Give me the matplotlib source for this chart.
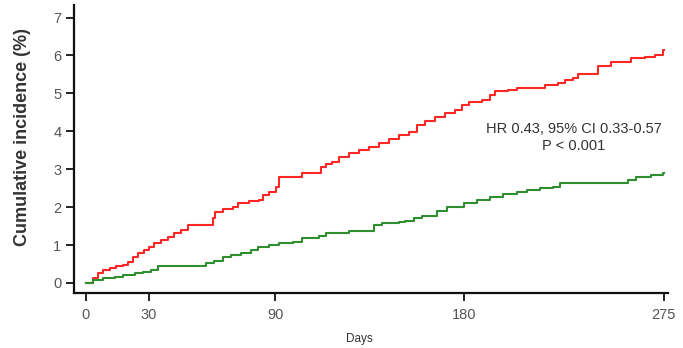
import matplotlib
matplotlib.use("Agg")
import matplotlib.pyplot as plt

# ---- data ----
red_days = [0, 3.3, 5.7, 8, 11.2, 14.3, 17.5, 19.9, 22.3, 24.6, 27.8, 30.2, 32.6, 35.7,
            38.9, 42.1, 45.2, 48.4, 60.4, 61.2, 65.1, 69.8, 72.2, 77.8, 82.5, 84.1, 87.2,
            90.4, 92, 103, 111.8, 114.1, 117.3, 120.4, 125.2, 129.9, 134.7, 139.4, 144.1,
            148.9, 153.6, 157.6, 161.5, 166.3, 171, 175.8, 178.9, 182.1, 188.4, 192.3,
            194.7, 201, 205, 218.4, 224.7, 227.9, 231.8, 234.2, 243.7, 250, 259.5, 265.9,
            270.6, 274.5, 275]
red_vals = [0, 0.12, 0.26, 0.34, 0.39, 0.45, 0.47, 0.56, 0.69, 0.78, 0.87, 0.96, 1.05, 1.13,
            1.22, 1.31, 1.40, 1.53, 1.71, 1.88, 1.94, 2.01, 2.10, 2.15, 2.19, 2.32, 2.41,
            2.54, 2.80, 2.91, 3.07, 3.14, 3.20, 3.33, 3.42, 3.51, 3.58, 3.69, 3.79,
            3.91, 3.99, 4.17, 4.26, 4.37, 4.48, 4.56, 4.70, 4.78, 4.83, 4.96,
            5.07, 5.09, 5.15, 5.22, 5.27, 5.36, 5.40, 5.51, 5.71, 5.84, 5.93, 5.97,
            6.02, 6.15, 6.15]

green_days = [0, 3.3, 8.1, 13.6, 17.5, 23.1, 27, 31, 34.1, 57, 61, 65, 68.9, 73.6, 78.4,
              81.7, 87.2, 91.9, 98.3, 103, 111, 114.1, 118.8, 125.2, 137, 141, 148.9, 152,
              155.9, 160, 167, 171.8, 179.7, 186, 192.3, 198.7, 205, 209.7, 216, 222.4,
              225.6, 258, 261.9, 269, 274.5, 275]
green_vals = [0, 0.08, 0.14, 0.17, 0.21, 0.26, 0.30, 0.34, 0.46, 0.52, 0.58, 0.69, 0.74, 0.78, 0.87,
              0.94, 1.00, 1.06, 1.09, 1.18, 1.24, 1.31, 1.33, 1.38, 1.53, 1.58, 1.60, 1.64,
              1.71, 1.77, 1.91, 2.01, 2.10, 2.19, 2.26, 2.35, 2.39, 2.45, 2.50, 2.54,
              2.63, 2.72, 2.80, 2.85, 2.89, 2.89]

x_ticks = [0, 30, 90, 180, 275]
y_ticks = [0, 1, 2, 3, 4, 5, 6, 7]
annotation = "HR 0.43, 95% CI 0.33-0.57\nP < 0.001"

plt.rcParams['font.family'] = ['Liberation Sans', 'DejaVu Sans']

fig = plt.figure(figsize=(6.83, 3.48), dpi=100)
ax = fig.add_axes([74 / 683, (348 - 293) / 348, (668 - 74) / 683, (293 - 5) / 348])

ax.step(red_days, red_vals, where='post', color='#ff2626', lw=1.5)
ax.step(green_days, green_vals, where='post', color='#2f8f2f', lw=1.5)

ax.set_xlim(-5.7, 277)
ax.set_ylim(-0.264, 7.33)

ax.set_xticks(x_ticks)
ax.set_xticklabels([str(t) for t in x_ticks])
ax.set_yticks(y_ticks)
ax.set_yticklabels([str(t) for t in y_ticks])

for s in ['top', 'right']:
    ax.spines[s].set_visible(False)
for s in ['left', 'bottom']:
    ax.spines[s].set_linewidth(1.6)
    ax.spines[s].set_color('#111111')

ax.tick_params(axis='both', length=6, width=1.4, color='#222222',
               labelcolor='#555555', labelsize=10.5, pad=3)
ax.tick_params(axis='x', pad=5)

ax.set_ylabel('Cumulative incidence (%)', fontsize=13, fontweight='bold', color='#333333')
ax.yaxis.set_label_coords(-0.072, 0.54)
ax.set_xlabel('Days', fontsize=8.5, color='#333333')
ax.xaxis.set_label_coords(0.48, -0.14)

ax.text(232.3, 3.83, annotation, ha='center', va='center', fontsize=10.5,
        color='#333333', linespacing=1.3)

fig.savefig('out.png', dpi=100)
